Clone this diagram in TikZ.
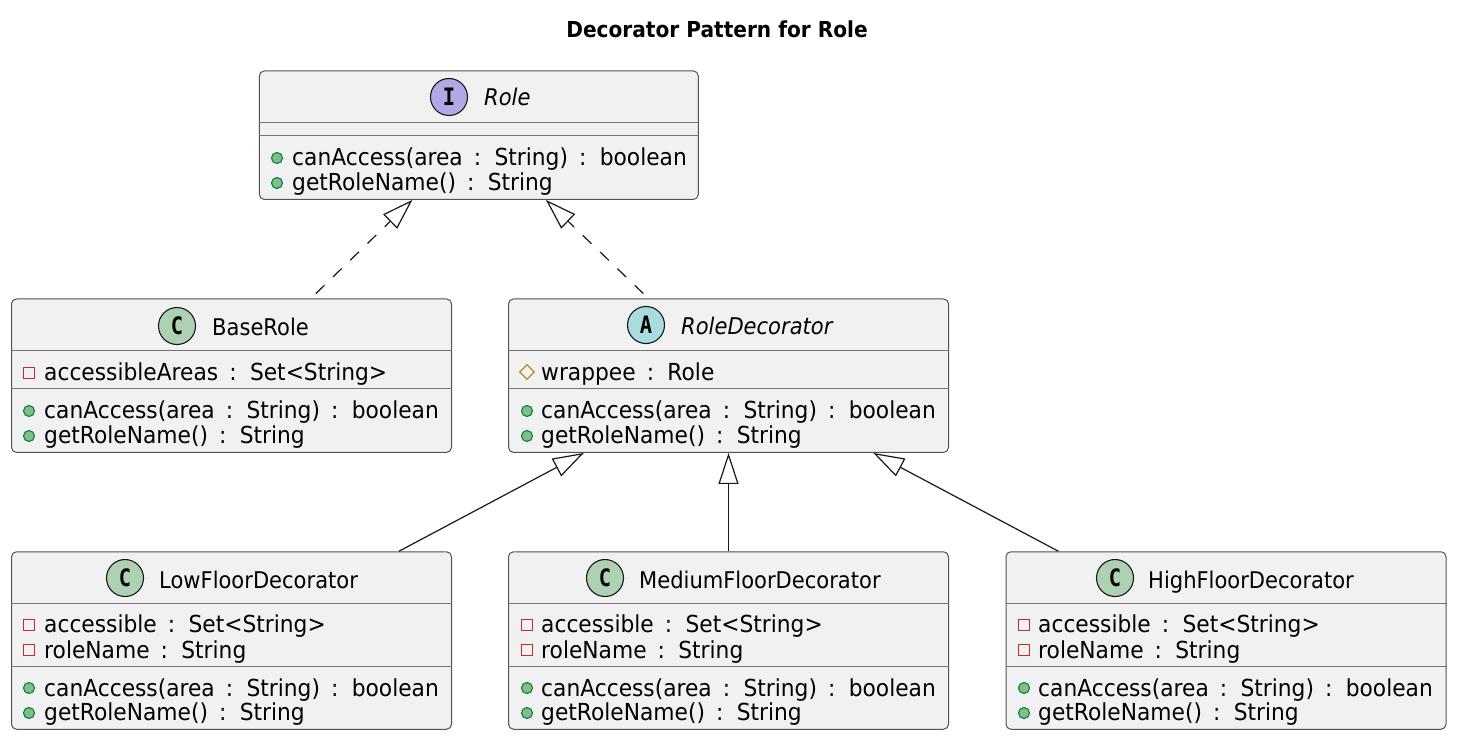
\documentclass[tikz,border=0pt]{standalone}
\usepackage{fontspec}
\setmainfont[FakeStretch=0.915]{DejaVu Sans}
\newfontfamily\memberfont[FakeStretch=0.93,WordSpace=1.6]{DejaVu Sans}
\newfontfamily\iconfont[FakeStretch=0.85]{DejaVu Sans Mono}
\usetikzlibrary{arrows.meta,shapes.geometric}
\definecolor{boxfill}{HTML}{F1F1F1}
\definecolor{boxline}{HTML}{181818}
\definecolor{pubfill}{HTML}{84BE84}
\definecolor{publine}{HTML}{038048}
\definecolor{privline}{HTML}{C82930}
\definecolor{protline}{HTML}{B38D22}
\definecolor{classicon}{HTML}{ADD1B2}
\definecolor{abstracticon}{HTML}{A9DCDF}
\definecolor{interfaceicon}{HTML}{B4A7E5}
\tikzset{
  classbox/.style={draw=boxline!75, fill=boxfill, rounded corners=5pt, line width=1pt, inner sep=0pt, minimum width=440pt},
  sepline/.style={draw=boxline!60, line width=1pt},
  icon/.style={circle, draw=boxline, line width=1.1pt, minimum size=37pt, inner sep=0pt, font=\iconfont\bfseries\fontsize{24}{24}\selectfont},
  classname/.style={anchor=base west, inner sep=0pt, font=\fontsize{23}{23}\selectfont},
  member/.style={anchor=base west, inner sep=0pt, font=\memberfont\fontsize{23.4}{23.4}\selectfont},
  pub/.style={circle, draw=publine, fill=pubfill, line width=1.1pt, minimum size=11pt, inner sep=0pt},
  priv/.style={rectangle, draw=privline, line width=1.3pt, minimum size=10.5pt, inner sep=0pt},
  prot/.style={diamond, draw=protline, line width=1.3pt, minimum size=15pt, inner sep=0pt},
  realize/.style={draw=boxline, line width=1.2pt, dash pattern=on 12pt off 12pt, -{Triangle[open,length=31pt,width=20pt]}, shorten <=7pt},
  extend/.style={draw=boxline, line width=1.2pt, -{Triangle[open,length=31pt,width=20pt]}},
}
\begin{document}
\begin{tikzpicture}[x=1pt, y=-1pt]
\useasboundingbox (0,0) rectangle (1457,741);

\node[anchor=base, inner sep=0pt, font=\bfseries\fontsize{22}{22}\selectfont] (title) at (717,38) {Decorator Pattern for Role};

% boxes
\node[classbox, minimum width=439pt, minimum height=128.5pt] (role) at (478.8,135.2) {};
\node[classbox, minimum height=153.5pt] (base) at (231.5,375.7) {};
\node[classbox, minimum height=153.5pt] (deco) at (728.5,375.7) {};
\node[classbox, minimum height=177.5pt] (low) at (231.5,640.5) {};
\node[classbox, minimum height=177.5pt] (medium) at (728.5,640.5) {};
\node[classbox, minimum height=177.5pt] (high) at (1226,640.5) {};

% separators
\draw[sepline] ([yshift=-52.5pt]role.north west) -- ([yshift=-52.5pt]role.north east);
\draw[sepline] ([yshift=-65.5pt]role.north west) -- ([yshift=-65.5pt]role.north east);
\draw[sepline] ([yshift=-52.5pt]base.north west) -- ([yshift=-52.5pt]base.north east);
\draw[sepline] ([yshift=-90.5pt]base.north west) -- ([yshift=-90.5pt]base.north east);
\draw[sepline] ([yshift=-52.5pt]deco.north west) -- ([yshift=-52.5pt]deco.north east);
\draw[sepline] ([yshift=-90.5pt]deco.north west) -- ([yshift=-90.5pt]deco.north east);
\draw[sepline] ([yshift=-52.5pt]low.north west) -- ([yshift=-52.5pt]low.north east);
\draw[sepline] ([yshift=-115pt]low.north west) -- ([yshift=-115pt]low.north east);
\draw[sepline] ([yshift=-52.5pt]medium.north west) -- ([yshift=-52.5pt]medium.north east);
\draw[sepline] ([yshift=-115pt]medium.north west) -- ([yshift=-115pt]medium.north east);
\draw[sepline] ([yshift=-52.5pt]high.north west) -- ([yshift=-52.5pt]high.north east);
\draw[sepline] ([yshift=-115pt]high.north west) -- ([yshift=-115pt]high.north east);

% headers
\node[icon, fill=interfaceicon] (roleicon) at (449,97) {I};
\node[classname, font=\itshape\fontsize{23}{23}\selectfont] (rolename) at (484,106) {Role};
\node[icon, fill=classicon] (baseicon) at (177,326) {C};
\node[classname] (basename) at (212,335) {BaseRole};
\node[icon, fill=abstracticon] (decoicon) at (646,325) {A};
\node[classname, font=\itshape\fontsize{23}{23}\selectfont] (deconame) at (681,334.5) {RoleDecorator};
\node[icon, fill=classicon] (lowicon) at (125,578) {C};
\node[classname] (lowname) at (159,588) {LowFloorDecorator};
\node[icon, fill=classicon] (mediumicon) at (605,578) {C};
\node[classname] (mediumname) at (639,588) {MediumFloorDecorator};
\node[icon, fill=classicon] (highicon) at (1115,578) {C};
\node[classname] (highname) at (1148,588) {HighFloorDecorator};

% role members
\node[pub] (rolem1) at (277,158) {};
\node[member] (rolet1) at (292,166) {canAccess(area : String) : boolean};
\node[pub] (rolem2) at (277,183) {};
\node[member] (rolet2) at (292,190) {getRoleName() : String};

% base members
\node[priv] (basem1) at (29,373) {};
\node[member] (baset1) at (44,380) {accessibleAreas : Set<String>};
\node[pub] (basem2) at (29,411) {};
\node[member] (baset2) at (44,418) {canAccess(area : String) : boolean};
\node[pub] (basem3) at (29,436) {};
\node[member] (baset3) at (44,443) {getRoleName() : String};

% decorator members
\node[prot] (decom1) at (527,372) {};
\node[member] (decot1) at (541,380) {wrappee : Role};
\node[pub] (decom2) at (527,411) {};
\node[member] (decot2) at (541,418) {canAccess(area : String) : boolean};
\node[pub] (decom3) at (527,436) {};
\node[member] (decot3) at (541,443) {getRoleName() : String};

% low members
\node[priv] (lowm1) at (29,625) {};
\node[member] (lowt1) at (44,632) {accessible : Set<String>};
\node[priv] (lowm2) at (29,650) {};
\node[member] (lowt2) at (44,658) {roleName : String};
\node[pub] (lowm3) at (29,688) {};
\node[member] (lowt3) at (44,696) {canAccess(area : String) : boolean};
\node[pub] (lowm4) at (29,713) {};
\node[member] (lowt4) at (44,720) {getRoleName() : String};

% medium members
\node[priv] (mediumm1) at (527,625) {};
\node[member] (mediumt1) at (541,632) {accessible : Set<String>};
\node[priv] (mediumm2) at (527,650) {};
\node[member] (mediumt2) at (541,658) {roleName : String};
\node[pub] (mediumm3) at (527,688) {};
\node[member] (mediumt3) at (541,696) {canAccess(area : String) : boolean};
\node[pub] (mediumm4) at (527,713) {};
\node[member] (mediumt4) at (541,720) {getRoleName() : String};

% high members
\node[priv] (highm1) at (1024,625) {};
\node[member] (hight1) at (1038,632) {accessible : Set<String>};
\node[priv] (highm2) at (1024,650) {};
\node[member] (hight2) at (1038,658) {roleName : String};
\node[pub] (highm3) at (1024,688) {};
\node[member] (hight3) at (1038,696) {canAccess(area : String) : boolean};
\node[pub] (highm4) at (1024,713) {};
\node[member] (hight4) at (1038,720) {getRoleName() : String};

% connectors
\draw[realize] (base) -- (role);
\draw[realize] (deco) -- (role);
\draw[extend] (low) -- (deco);
\draw[extend] (medium) -- (deco);
\draw[extend] (high) -- (deco);
\end{tikzpicture}
\end{document}
